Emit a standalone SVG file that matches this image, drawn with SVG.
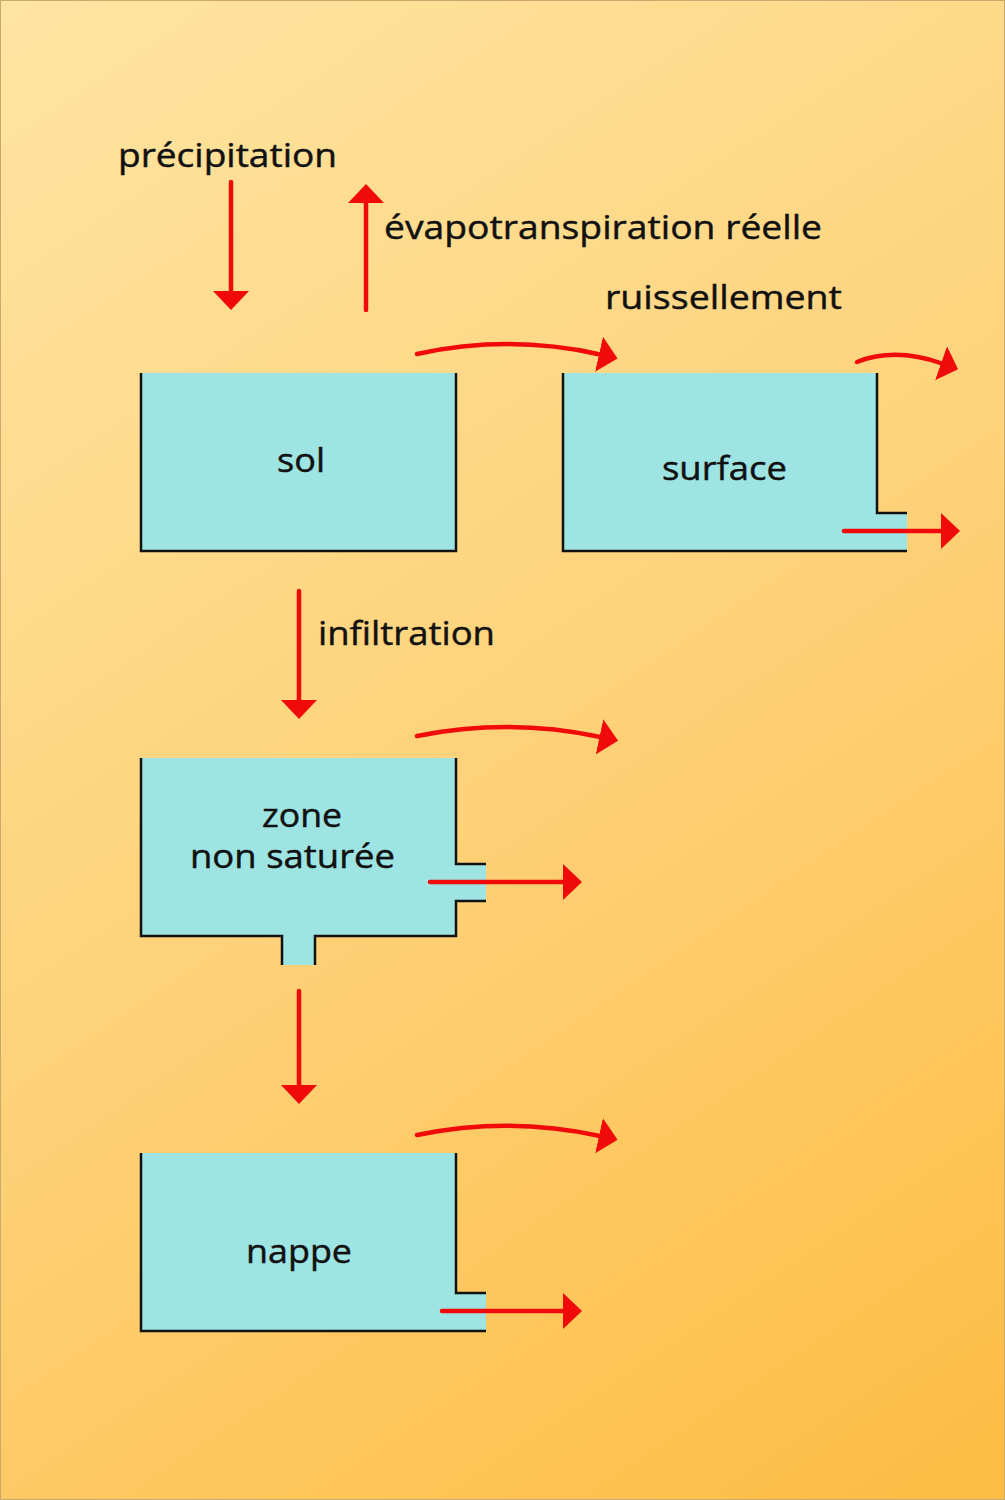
<svg xmlns="http://www.w3.org/2000/svg" width="1005" height="1500" viewBox="0 0 1005 1500">
<defs>
<linearGradient id="bg" x1="0" y1="0" x2="1005" y2="1500" gradientUnits="userSpaceOnUse">
<stop offset="0" stop-color="#FEE5A2"/>
<stop offset="0.5" stop-color="#FED27A"/>
<stop offset="1" stop-color="#FDBC42"/>
</linearGradient>
<marker id="ah" markerUnits="userSpaceOnUse" markerWidth="21" markerHeight="37" refX="1" refY="18" orient="auto">
<path d="M0,0 L19,18 L0,36 Z" fill="#F00A0A"/>
</marker>
<marker id="ahs" markerUnits="userSpaceOnUse" markerWidth="20" markerHeight="37" refX="1" refY="18" orient="auto">
<path d="M0,0 L18,18 L0,36 Z" fill="#F00A0A"/>
</marker>
</defs>
<style>
.water{fill:#9DE4E3;stroke:none}
.wall{fill:none;stroke:#111;stroke-width:2.5;stroke-linejoin:miter}
.flow{fill:none;stroke:#F00A0A;stroke-width:4.5;stroke-linecap:round;marker-end:url(#ah)}
.t{font-family:"Open Sans","DejaVu Sans","Liberation Sans",sans-serif;font-size:32.5px;fill:#111;stroke:#111;stroke-width:0.45}
</style>
<rect x="0" y="0" width="1005" height="1500" fill="url(#bg)"/>
<rect x="0.5" y="0.5" width="1004" height="1499" fill="none" stroke="#c9aa6c" stroke-width="1"/>

<g id="sol">
<rect class="water" x="141" y="373" width="315" height="178"/>
<polyline class="wall" points="141,373 141,551 456,551 456,373"/>
<text class="t" x="277" y="472" textLength="48" lengthAdjust="spacingAndGlyphs">sol</text>
</g>

<g id="surface">
<polygon class="water" points="563,373 877,373 877,513 907,513 907,551 563,551"/>
<polyline class="wall" points="563,373 563,551 907,551"/>
<polyline class="wall" points="877,373 877,513 907,513"/>
<text class="t" x="662" y="480" textLength="125" lengthAdjust="spacingAndGlyphs">surface</text>
</g>

<g id="zone">
<polygon class="water" points="141,758 456,758 456,864 486,864 486,901 456,901 456,936 315,936 315,965 282,965 282,936 141,936"/>
<polyline class="wall" points="141,758 141,936 282,936 282,965"/>
<polyline class="wall" points="315,965 315,936 456,936 456,901 486,901"/>
<polyline class="wall" points="456,758 456,864 486,864"/>
<text class="t" x="262" y="827" textLength="80" lengthAdjust="spacingAndGlyphs">zone</text>
<text class="t" x="190" y="868" textLength="205" lengthAdjust="spacingAndGlyphs">non saturée</text>
</g>

<g id="nappe">
<polygon class="water" points="141,1153 456,1153 456,1293 486,1293 486,1331 141,1331"/>
<polyline class="wall" points="141,1153 141,1331 486,1331"/>
<polyline class="wall" points="456,1153 456,1293 486,1293"/>
<text class="t" x="246" y="1263" textLength="106" lengthAdjust="spacingAndGlyphs">nappe</text>
</g>

<g id="labels">
<text class="t" x="118" y="167" textLength="219" lengthAdjust="spacingAndGlyphs">précipitation</text>
<text class="t" x="384" y="239" textLength="438" lengthAdjust="spacingAndGlyphs">évapotranspiration réelle</text>
<text class="t" x="605" y="309" textLength="237" lengthAdjust="spacingAndGlyphs">ruissellement</text>
<text class="t" x="318" y="645" textLength="177" lengthAdjust="spacingAndGlyphs">infiltration</text>
</g>

<g id="connectors">
<path class="flow" d="M231,182 L231,292"/>
<path class="flow" d="M366,310 L366,202"/>
<path class="flow" d="M299,591 L299,701"/>
<path class="flow" d="M299,991 L299,1086"/>
<path class="flow" d="M417,354 Q509,334 600,354.5"/>
<path class="flow" d="M857,362 Q895,347 942,363.5" style="marker-end:url(#ahs)"/>
<path class="flow" d="M844,531 L942,531"/>
<path class="flow" d="M417,736 Q509,717.5 600.5,737"/>
<path class="flow" d="M430,882 L564,882"/>
<path class="flow" d="M417,1135 Q509,1116 600,1136"/>
<path class="flow" d="M442,1311 L564,1311"/>
</g>
</svg>
